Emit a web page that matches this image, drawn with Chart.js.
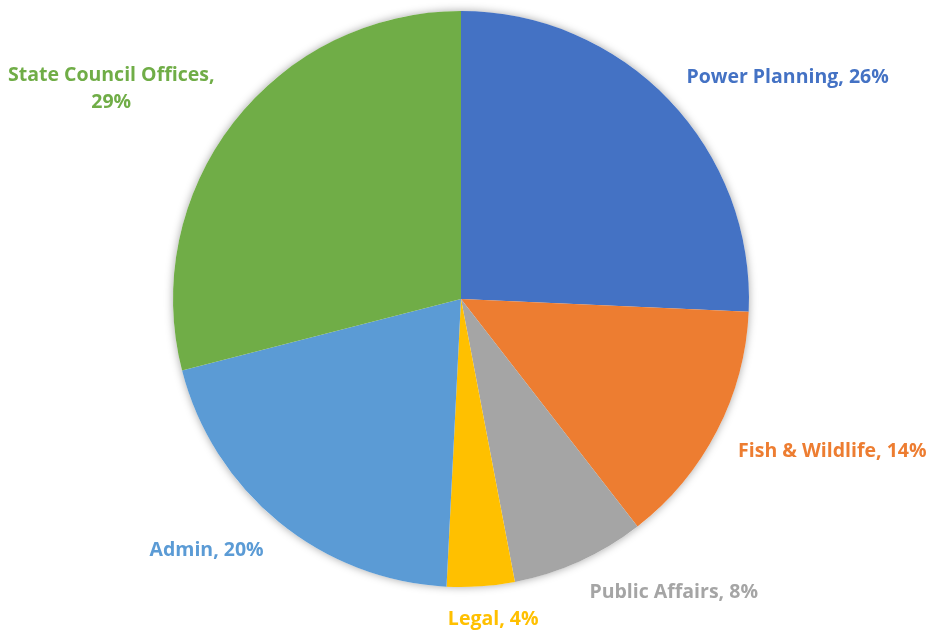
<!DOCTYPE html>
<html lang="en">
<head>
    <meta charset="UTF-8">
    <title>Budget share</title>
    <style>
        body { margin: 0; background: #fff; }
        #pie { display: block; }
    </style>
</head>
<body>
    <canvas id="pie" width="936" height="639"></canvas>

    <script src="https://cdn.jsdelivr.net/npm/chart.js"></script>

    <script>
// data (shares in %)
const categories = ['Power Planning', 'Fish & Wildlife', 'Public Affairs', 'Legal', 'Admin', 'State Council Offices'];
const shares = [25.7, 13.8, 7.5, 3.8, 20.2, 29.0];
const colors = ['#4472C4', '#ED7D31', '#A5A5A5', '#FFC000', '#5B9BD5', '#70AD47'];

const labelFont = 'bold 19.5px "Open Sans", Lato, sans-serif';
const capH = 15;      // rough cap height of the label font
const lineGap = 27;   // baseline to baseline for wrapped labels
const labelGap = 24;  // distance of the label corner from the rim

// soft grey glow behind the pie
const shadowPlugin = {
  id: 'pieShadow',
  beforeDatasetsDraw(chart) {
    const arc = chart.getDatasetMeta(0).data[0];
    if (!arc) return;
    const {x, y, outerRadius} = arc.getProps(['x', 'y', 'outerRadius'], true);
    const c = chart.ctx;
    c.save();
    c.shadowColor = 'rgba(0,0,0,0.35)';
    c.shadowBlur = 9;
    c.fillStyle = '#fff';
    c.beginPath();
    c.arc(x, y, outerRadius, 0, Math.PI * 2);
    c.fill();
    c.restore();
  }
};

const clamp = v => Math.max(-1, Math.min(1, v));

// Excel style "Category, 12%" labels outside the slices
const labelPlugin = {
  id: 'outsideLabels',
  afterDatasetsDraw(chart) {
    const c = chart.ctx;
    const ds = chart.data.datasets[0];
    const total = ds.data.reduce((a, b) => a + b, 0);
    c.save();
    c.font = labelFont;
    chart.getDatasetMeta(0).data.forEach((arc, i) => {
      const p = arc.getProps(['x', 'y', 'startAngle', 'endAngle', 'outerRadius'], true);
      const mid = (p.startAngle + p.endAngle) / 2;
      const dx = Math.cos(mid), dy = Math.sin(mid);
      const ax = p.x + dx * (p.outerRadius + labelGap);
      const ay = p.y + dy * (p.outerRadius + labelGap);

      const pct = Math.round(ds.data[i] / total * 100) + '%';
      let lines = [chart.data.labels[i] + ', ' + pct];
      if (c.measureText(lines[0]).width > 235) lines = [chart.data.labels[i] + ',', pct];

      const w = Math.max(...lines.map(l => c.measureText(l).width));
      const h = capH + (lines.length - 1) * lineGap;
      const fx = 0.5 - 0.5 * clamp(dx * 3.4);
      const fy = 0.5 - 0.5 * clamp(dy * 3.4);
      const left = ax - fx * w;
      const top = ay - fy * h;

      c.fillStyle = ds.backgroundColor[i];
      c.textAlign = 'center';
      c.textBaseline = 'alphabetic';
      lines.forEach((l, k) => {
        c.fillText(l, left + w / 2, top + capH + k * lineGap);
      });
    });
    c.restore();
  }
};

new Chart(document.getElementById('pie'), {
  type: 'pie',
  data: {
    labels: categories,
    datasets: [{
      data: shares,
      backgroundColor: colors,
      borderWidth: 0
    }]
  },
  options: {
    responsive: false,
    animation: false,
    layout: {
      padding: { top: 11, bottom: 52, left: 173, right: 187 }
    },
    plugins: {
      legend: { display: false },
      tooltip: { enabled: false }
    }
  },
  plugins: [shadowPlugin, labelPlugin]
});
    </script>
</body>
</html>
